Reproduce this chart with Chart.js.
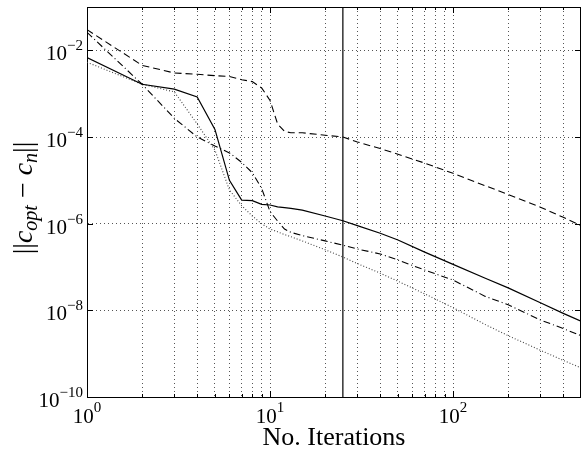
<!DOCTYPE html>
<html><head><meta charset="utf-8">
<script src="https://cdn.jsdelivr.net/npm/chart.js@4"></script>
<style>html,body{margin:0;padding:0;background:#fff;} #wrap{width:581px;height:450px;}</style>
</head><body><div id="wrap"><canvas id="c" width="581" height="450"></canvas></div>
<script>
// ---- data ----
const iterations = [1,2,3,4,5,6,7,8,9,10,11,12,13,15,20,25,30,40,50,70,100,150,200,300,400,500];
const errSolid   = [6.8e-3,1.65e-3,1.27e-3,8.4e-4,1.5e-4,1.0e-5,3.5e-6,3.4e-6,2.8e-6,2.7e-6,2.45e-6,2.35e-6,2.25e-6,2.05e-6,1.5e-6,1.17e-6,9e-7,6e-7,4.2e-7,2.2e-7,1.15e-7,5.5e-8,3.3e-8,1.5e-8,8.5e-9,5.6e-9];
const errDashed  = [3.0e-2,4.5e-3,3.0e-3,2.8e-3,2.6e-3,2.5e-3,2.1e-3,1.9e-3,1.35e-3,7e-4,2.0e-4,1.35e-4,1.25e-4,1.25e-4,1.1e-4,1.0e-4,7.7e-5,5.4e-5,4.0e-5,2.5e-5,1.45e-5,7.5e-6,4.7e-6,2.4e-6,1.4e-6,9e-7];
const errDashDot = [2.6e-2,1.65e-3,2.7e-4,1.0e-4,6.2e-5,4.3e-5,2.6e-5,1.5e-5,6.5e-6,1.9e-6,1.15e-6,7.5e-7,6.3e-7,5.3e-7,4.0e-7,3.2e-7,2.6e-7,2.0e-7,1.45e-7,8.5e-8,5e-8,2.1e-8,1.35e-8,6e-9,3.8e-9,2.6e-9];
const errDotted  = [5.3e-3,1.65e-3,1.1e-3,2.0e-4,5.0e-5,6e-6,2.6e-6,1.5e-6,1.0e-6,7.5e-7,6.5e-7,5.6e-7,5.0e-7,4.0e-7,2.5e-7,1.7e-7,1.2e-7,7.2e-8,4.7e-8,2.4e-8,1.15e-8,4.7e-9,2.6e-9,1.2e-9,7e-10,4.7e-10];
const markerIteration = 25;
const xRange = [1, 500];
const yRange = [1e-10, 1e-1];
const xTickValues = [1,2,3,4,5,6,7,8,9,10,20,30,40,50,60,70,80,90,100,200,300,400,500];
const xLabelExponents = [0, 1, 2];
const yLabelExponents = [-10, -8, -6, -4, -2];
const xTitle = 'No. Iterations';

const pts = arr => iterations.map((it, i) => ({x: it, y: arr[i]}));

const serif = '"Liberation Serif", "Times New Roman", serif';

const decorPlugin = {
  id: 'decor',
  afterDraw(chart) {
    const {ctx, chartArea: {left, right, top, bottom}, scales: {x, y}} = chart;
    ctx.save();
    ctx.strokeStyle = '#000';
    ctx.lineWidth = 1;
    // top & right border
    ctx.beginPath();
    ctx.moveTo(left, top + 0.5); ctx.lineTo(right, top + 0.5);
    ctx.moveTo(right - 0.5, top); ctx.lineTo(right - 0.5, bottom);
    ctx.stroke();
    // ticks (inward)
    ctx.beginPath();
    xTickValues.forEach(v => {
      const px = Math.round(x.getPixelForValue(v)) + 0.5;
      const major = xLabelExponents.some(e => Math.pow(10, e) === v);
      const len = major ? 6 : 3;
      ctx.moveTo(px, bottom); ctx.lineTo(px, bottom - len);
      ctx.moveTo(px, top); ctx.lineTo(px, top + len);
    });
    yLabelExponents.forEach(e => {
      const py = Math.round(y.getPixelForValue(Math.pow(10, e))) + 0.5;
      ctx.moveTo(left, py); ctx.lineTo(left + 6, py);
      ctx.moveTo(right, py); ctx.lineTo(right - 6, py);
    });
    ctx.stroke();

    ctx.fillStyle = '#000';
    const bigF = '21px ' + serif, supF = '15px ' + serif;
    xLabelExponents.forEach(e => {
      const px = x.getPixelForValue(Math.pow(10, e));
      const sup = e < 0 ? '\u2212' + (-e) : String(e);
      ctx.font = bigF; const w1 = ctx.measureText('10').width;
      ctx.font = supF; const w2 = ctx.measureText(sup).width;
      const x0 = px - (w1 + w2) / 2;
      ctx.textAlign = 'left'; ctx.textBaseline = 'alphabetic';
      ctx.font = bigF; ctx.fillText('10', x0, bottom + 26);
      ctx.font = supF; ctx.fillText(sup, x0 + w1, bottom + 15);
    });
    yLabelExponents.forEach(e => {
      const py = y.getPixelForValue(Math.pow(10, e));
      const sup = e < 0 ? '\u2212' + (-e) : String(e);
      ctx.font = supF; const w2 = ctx.measureText(sup).width;
      ctx.textAlign = 'right'; ctx.textBaseline = 'alphabetic';
      const xr = left - 4;
      ctx.fillText(sup, xr, py);
      ctx.font = bigF; ctx.fillText('10', xr - w2, py + 10);
    });
    ctx.font = '26px ' + serif;
    ctx.textAlign = 'center';
    ctx.fillText(xTitle, (left + right) / 2, 445);
    const F = 28;
    const parts = [
      {t: '||', f: F + 'px ' + serif, dy: 0},
      {t: 'c', f: 'italic ' + F + 'px ' + serif, dy: 0},
      {t: 'opt', f: 'italic ' + Math.round(F * 0.7) + 'px ' + serif, dy: 5},
      {t: ' \u2212 ', f: F + 'px ' + serif, dy: 0},
      {t: 'c', f: 'italic ' + F + 'px ' + serif, dy: 0},
      {t: 'n', f: 'italic ' + Math.round(F * 0.7) + 'px ' + serif, dy: 5},
      {t: '||', f: F + 'px ' + serif, dy: 0}
    ];
    let total = 0;
    parts.forEach(p => { ctx.font = p.f; p.w = ctx.measureText(p.t).width; total += p.w; });
    ctx.translate(32, (top + bottom) / 2 - 4);
    ctx.rotate(-Math.PI / 2);
    ctx.textAlign = 'left';
    let cx = -total / 2;
    parts.forEach(p => { ctx.font = p.f; ctx.fillText(p.t, cx, p.dy); cx += p.w; });
    ctx.restore();
  }
};

const axisCommon = {
  type: 'logarithmic',
  ticks: {display: false},
  grid: {color: '#555', lineWidth: 1, drawTicks: false, tickLength: 0},
  border: {display: true, color: '#000', width: 1, dash: [1, 3]}
};

new Chart(document.getElementById('c'), {
  type: 'line',
  data: {
    datasets: [
      {data: pts(errSolid), borderColor: '#000', borderWidth: 1.2},
      {data: pts(errDashed), borderColor: '#000', borderWidth: 1.1, borderDash: [7, 4]},
      {data: pts(errDashDot), borderColor: '#000', borderWidth: 1.1, borderDash: [7, 3, 1, 3]},
      {data: pts(errDotted), borderColor: '#444', borderWidth: 1.1, borderDash: [1, 2]},
      {data: [{x: markerIteration, y: yRange[0]}, {x: markerIteration, y: yRange[1]}], borderColor: '#000', borderWidth: 1.2}
    ]
  },
  options: {
    responsive: false,
    animation: false,
    devicePixelRatio: 1,
    layout: {padding: {left: 87, right: 0, top: 7, bottom: 53}},
    plugins: {legend: {display: false}, tooltip: {enabled: false}, title: {display: false}},
    elements: {point: {radius: 0}, line: {tension: 0, fill: false}},
    scales: {
      x: Object.assign({}, axisCommon, {
        min: xRange[0], max: xRange[1],
        afterBuildTicks: s => { s.ticks = xTickValues.map(v => ({value: v})); }
      }),
      y: Object.assign({}, axisCommon, {
        min: yRange[0], max: yRange[1],
        afterBuildTicks: s => { s.ticks = yLabelExponents.map(e => ({value: Math.pow(10, e)})); }
      })
    }
  },
  plugins: [decorPlugin]
});
</script>
</body></html>
